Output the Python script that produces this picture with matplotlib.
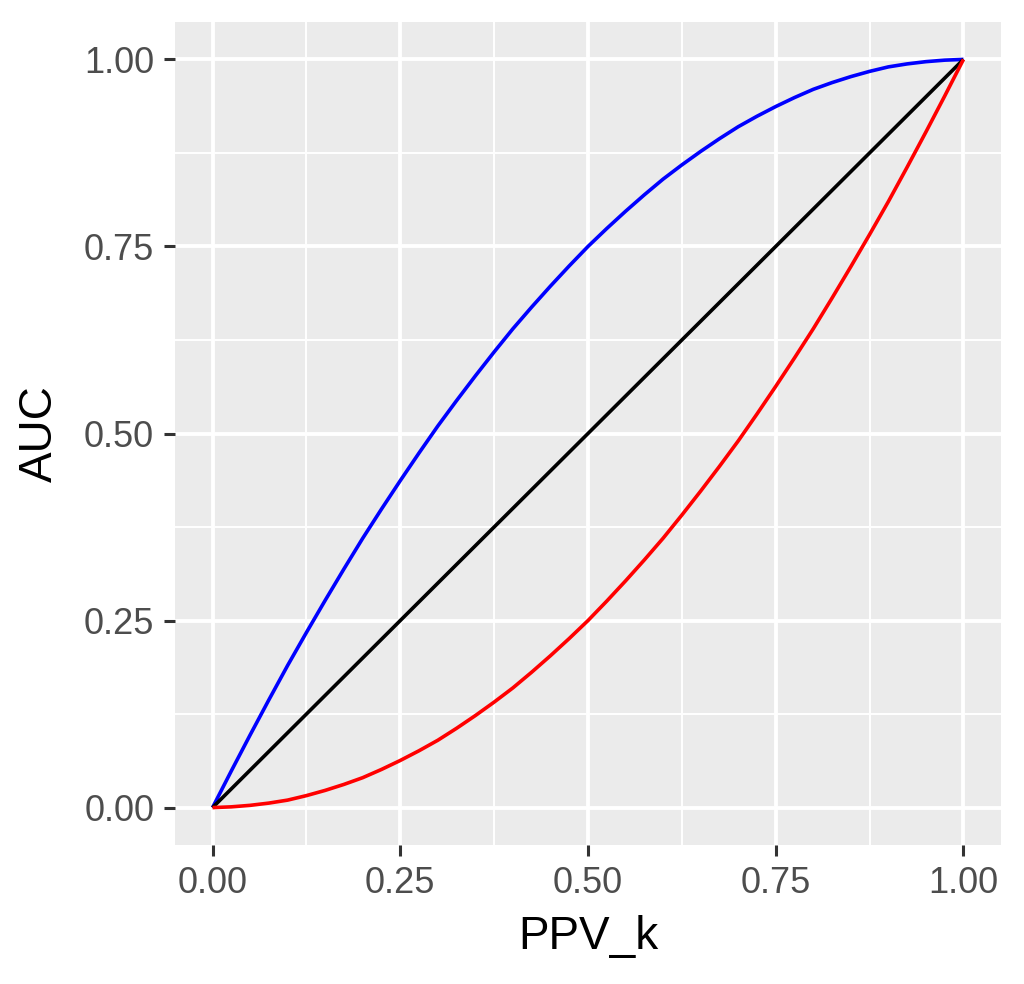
import matplotlib
matplotlib.use("Agg")
import matplotlib.pyplot as plt
from matplotlib.ticker import MultipleLocator

plt.rcParams['font.family'] = ['Liberation Sans', 'DejaVu Sans']

# values
ppv_k = [0.0, 0.025, 0.05, 0.075, 0.1, 0.125, 0.15, 0.175, 0.2, 0.225, 0.25,
         0.275, 0.3, 0.325, 0.35, 0.375, 0.4, 0.425, 0.45, 0.475, 0.5,
         0.525, 0.55, 0.575, 0.6, 0.625, 0.65, 0.675, 0.7, 0.725, 0.75,
         0.775, 0.8, 0.825, 0.85, 0.875, 0.9, 0.925, 0.95, 0.975, 1.0]
auc_blue = [0.0, 0.049, 0.097, 0.144, 0.19, 0.234, 0.277, 0.319, 0.36, 0.399, 0.437,
            0.474, 0.51, 0.544, 0.577, 0.609, 0.64, 0.669, 0.697, 0.724, 0.75,
            0.774, 0.797, 0.819, 0.84, 0.859, 0.877, 0.894, 0.91, 0.924, 0.937,
            0.949, 0.96, 0.969, 0.977, 0.984, 0.99, 0.994, 0.997, 0.999, 1.0]
auc_black = list(ppv_k)
auc_red = [0.0, 0.001, 0.003, 0.006, 0.01, 0.016, 0.023, 0.031, 0.04, 0.051, 0.063,
           0.076, 0.09, 0.106, 0.123, 0.141, 0.16, 0.181, 0.203, 0.226, 0.25,
           0.276, 0.303, 0.331, 0.36, 0.391, 0.423, 0.456, 0.49, 0.526, 0.563,
           0.601, 0.64, 0.681, 0.723, 0.766, 0.81, 0.856, 0.903, 0.951, 1.0]
ticks = [0.0, 0.25, 0.5, 0.75, 1.0]
tick_labels = ["0.00", "0.25", "0.50", "0.75", "1.00"]

fig = plt.figure(figsize=(10.24, 9.84), dpi=100)
ax = fig.add_axes([175 / 1024, 139 / 984, 826 / 1024, 823 / 984])
ax.set_facecolor("#EBEBEB")

ax.plot(ppv_k, auc_blue, color="blue", lw=2.6, solid_capstyle="butt")
ax.plot(ppv_k, auc_black, color="black", lw=2.6, solid_capstyle="butt")
ax.plot(ppv_k, auc_red, color="red", lw=2.6, solid_capstyle="butt")

ax.set_xlim(-0.05, 1.05)
ax.set_ylim(-0.05, 1.05)
ax.set_xticks(ticks)
ax.set_xticklabels(tick_labels)
ax.set_yticks(ticks)
ax.set_yticklabels(tick_labels)
ax.xaxis.set_minor_locator(MultipleLocator(0.125))
ax.yaxis.set_minor_locator(MultipleLocator(0.125))

ax.grid(which="major", color="white", lw=2.8)
ax.grid(which="minor", color="white", lw=1.4)
ax.set_axisbelow(True)
for s in ax.spines.values():
    s.set_visible(False)

ax.tick_params(which="major", length=8, width=2.2, color="#333333",
               labelsize=26, labelcolor="#4D4D4D", pad=7)
ax.tick_params(which="minor", length=0)

ax.set_xlabel("PPV_k", fontsize=33, labelpad=10)
ax.set_ylabel("AUC", fontsize=33, labelpad=16)

fig.savefig("out.png", dpi=100)
